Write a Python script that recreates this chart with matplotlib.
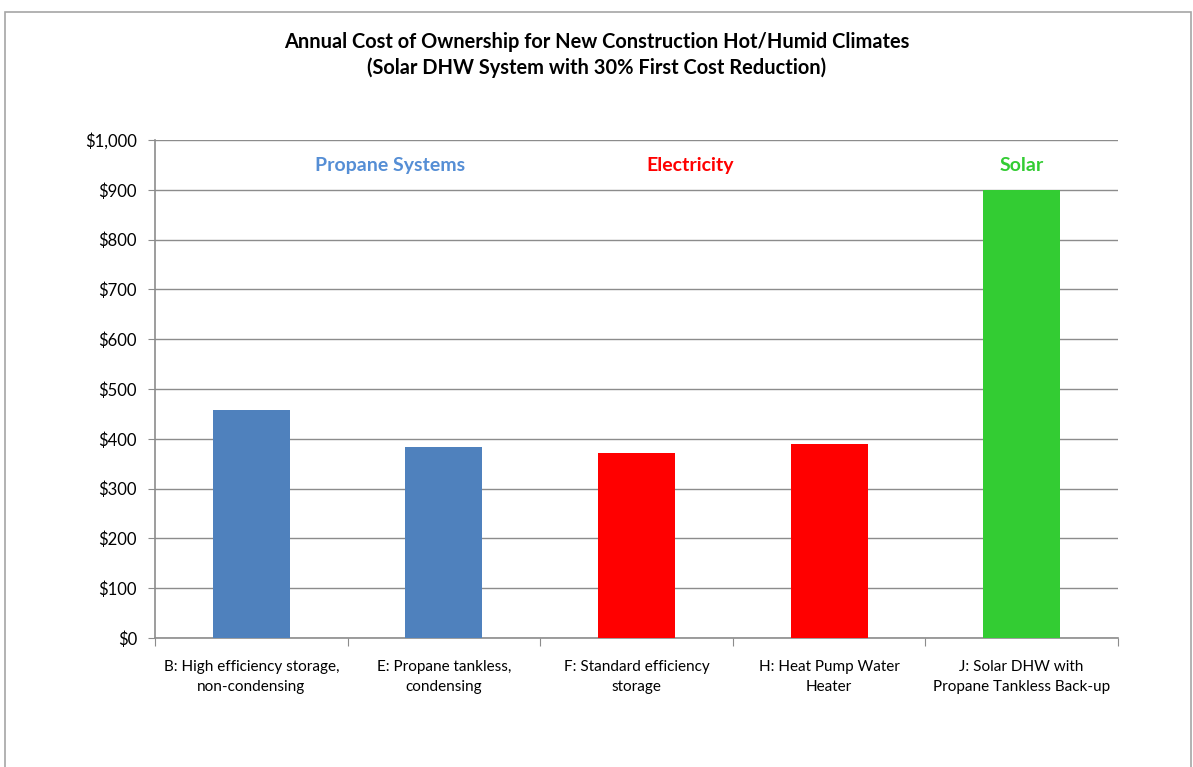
import matplotlib.pyplot as plt
from matplotlib.patches import Rectangle
from matplotlib.ticker import FuncFormatter

plt.rcParams['font.family'] = ['Lato', 'DejaVu Sans']

# annual cost per system
systems = ['B: High efficiency storage,\nnon-condensing',
           'E: Propane tankless,\ncondensing',
           'F: Standard efficiency\nstorage',
           'H: Heat Pump Water\nHeater',
           'J: Solar DHW with\nPropane Tankless Back-up']
costs = [458, 383, 371, 390, 900]
bar_colors = ['#4F81BD', '#4F81BD', '#FF0000', '#FF0000', '#33CC33']

groups = ['Propane Systems', 'Electricity', 'Solar']
group_x = [0.72, 2.28, 4.0]
group_colors = ['#558ED5', '#FF0000', '#33CC33']

fig = plt.figure(figsize=(11.93, 7.67), dpi=100)
fig.patches.append(Rectangle((0.004, -0.05), 0.994, 1.034, transform=fig.transFigure,
                             fill=False, edgecolor='#A6A6A6', linewidth=1.2))

ax = fig.add_axes([0.1299, 0.1682, 0.8072, 0.6493])
x = range(len(systems))
ax.bar(x, costs, width=0.4, color=bar_colors, zorder=3)

ax.set_xlim(-0.5, 4.5)
ax.set_ylim(0, 1000)
ax.set_yticks(range(0, 1001, 100))
ax.yaxis.set_major_formatter(FuncFormatter(lambda v, p: '${:,.0f}'.format(v)))
ax.grid(axis='y', color='#8C8C8C', linewidth=1.0, zorder=0)

# category boundaries get the tick marks, labels sit between them
ax.set_xticks([i + 0.5 for i in range(-1, 5)])
ax.set_xticklabels([])
ax.set_xticks(list(x), minor=True)
ax.set_xticklabels(systems, minor=True, fontsize=11, linespacing=1.5)
ax.tick_params(axis='x', which='minor', length=0, pad=16)
ax.tick_params(axis='x', which='major', length=6, color='#8C8C8C')
ax.tick_params(axis='y', length=5, color='#8C8C8C', labelsize=12, pad=8)

for side in ['top', 'right']:
    ax.spines[side].set_visible(False)
for side in ['left', 'bottom']:
    ax.spines[side].set_color('#8C8C8C')
    ax.spines[side].set_linewidth(1.2)

for name, gx, c in zip(groups, group_x, group_colors):
    ax.text(gx, 948, name, color=c, fontsize=14, fontweight='bold',
            ha='center', va='center')

fig.text(0.5, 0.928, 'Annual Cost of Ownership for New Construction Hot/Humid Climates\n'
         '(Solar DHW System with 30% First Cost Reduction)',
         ha='center', va='center', fontsize=14.4, fontweight='bold', linespacing=1.3)

fig.savefig('out.png', dpi=100)
